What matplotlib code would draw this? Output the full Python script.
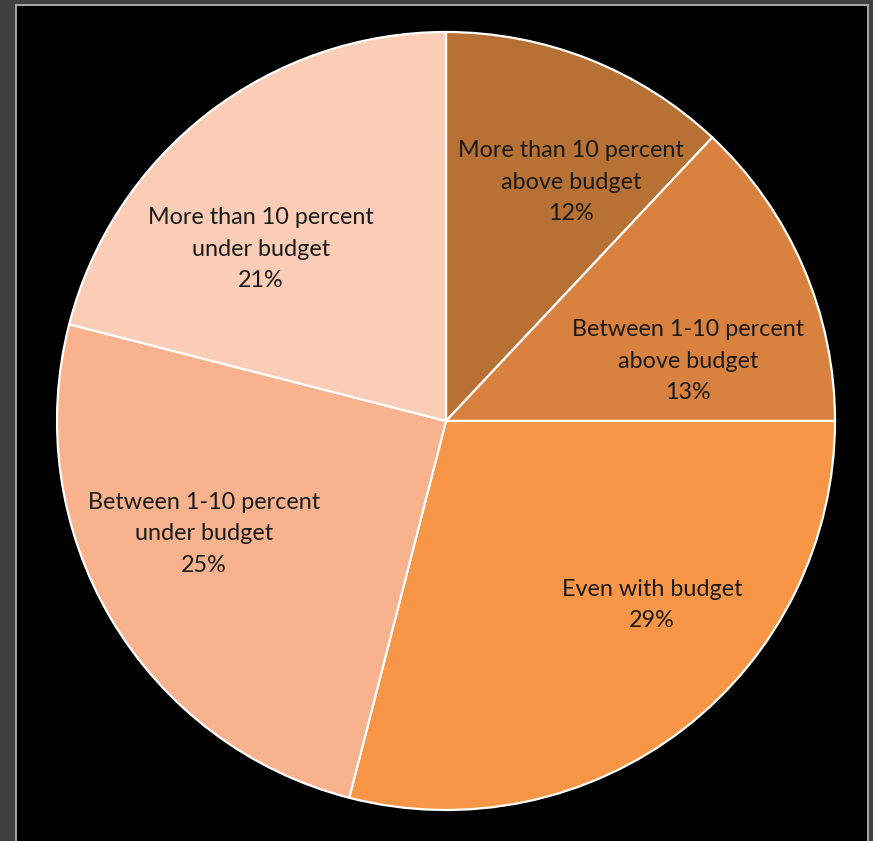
import matplotlib
matplotlib.use("Agg")
import matplotlib.pyplot as plt
from matplotlib.patches import Rectangle

categories = [
    "More than 10 percent\nabove budget",
    "Between 1-10 percent\nabove budget",
    "Even with budget",
    "Between 1-10 percent\nunder budget",
    "More than 10 percent\nunder budget",
]
shares = [12, 13, 29, 25, 21]
colors = ["#B87134", "#D9823F", "#F79646", "#F8B38E", "#FBCDB7"]
label_xy = [(0.321, 0.614), (0.622, 0.154), (0.530, -0.473), (-0.622, -0.290), (-0.476, 0.442)]

W, H = 873, 841
fig = plt.figure(figsize=(W / 100, H / 100), dpi=100, facecolor="#404040")

# black panel with a thin light frame
fig.patches.append(Rectangle((15.5 / W, -0.02), (867.5 - 15.5) / W, (H - 4.5) / H + 0.02,
                             transform=fig.transFigure, facecolor="black",
                             edgecolor="#A8A8A8", linewidth=1.4, zorder=-10))

cx, cy, R = 446, H - 421, 389
ax = fig.add_axes([(cx - R) / W, (cy - R) / H, 2 * R / W, 2 * R / H])
ax.set_zorder(5)
ax.set_facecolor("none")
ax.pie(shares, colors=colors, startangle=90, counterclock=False, radius=1,
       wedgeprops=dict(edgecolor="white", linewidth=1.6))
ax.set_xlim(-1, 1)
ax.set_ylim(-1, 1)
ax.set_aspect("equal")
ax.axis("off")

for cat, val, (x, y) in zip(categories, shares, label_xy):
    ax.text(x, y, f"{cat}\n{val}%", ha="center", va="center", fontsize=16.8,
            family="Lato", color="#1a1a1a", linespacing=1.62)

fig.savefig("out.png", dpi=100, facecolor=fig.get_facecolor())
